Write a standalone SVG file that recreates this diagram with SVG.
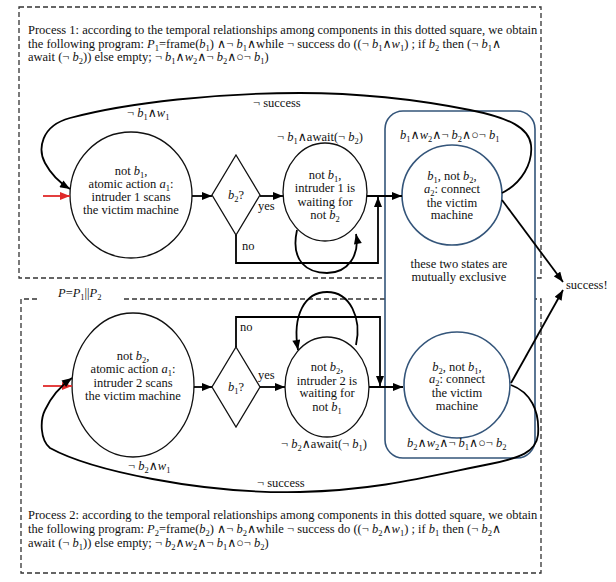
<svg xmlns="http://www.w3.org/2000/svg" width="616" height="582" viewBox="0 0 616 582">
<style>
.t{font-family:"Liberation Serif","Times New Roman","DejaVu Serif",serif;font-size:12.5px;fill:#111}
.c{text-anchor:middle}
.i{font-style:italic}
.s{font-size:8.5px}
.node{fill:#fff;stroke:#111;stroke-width:1.3}
.blue{fill:#fff;stroke:#34557a;stroke-width:1.6}
.box{fill:none;stroke:#333;stroke-width:1.3;stroke-dasharray:5,3}
.ln{fill:none;stroke:#000;stroke-width:1.8}
.red{fill:none;stroke:#e02a2a;stroke-width:1.8}
</style>
<defs>
<marker id="ah" viewBox="0 0 10 8" refX="10" refY="4" markerWidth="11" markerHeight="8" orient="auto" markerUnits="userSpaceOnUse"><path d="M0,0 L10,4 L0,8 z" fill="#000"/></marker>
<marker id="ahr" viewBox="0 0 10 8" refX="10" refY="4" markerWidth="11" markerHeight="8" orient="auto" markerUnits="userSpaceOnUse"><path d="M0,0 L10,4 L0,8 z" fill="#e02a2a"/></marker>
</defs>
<rect width="616" height="582" fill="#fff"/>

<g id="process1-box">
<rect class="box" x="19" y="7" width="522" height="271"/>
<text class="t" x="28" y="34">Process 1: according to the temporal relationships among components in this dotted square, we obtain</text>
<text class="t" x="28" y="48">the following program: <tspan class="i">P</tspan><tspan class="s" dy="3">1</tspan><tspan dy="-3">=frame(</tspan><tspan class="i">b</tspan><tspan class="s" dy="3">1</tspan><tspan dy="-3">) ∧¬ </tspan><tspan class="i">b</tspan><tspan class="s" dy="3">1</tspan><tspan dy="-3">∧while ¬  success do ((¬ </tspan><tspan class="i">b</tspan><tspan class="s" dy="3">1</tspan><tspan dy="-3">∧</tspan><tspan class="i">w</tspan><tspan class="s" dy="3">1</tspan><tspan dy="-3">) ; if </tspan><tspan class="i">b</tspan><tspan class="s" dy="3">2</tspan><tspan dy="-3"> then (¬ </tspan><tspan class="i">b</tspan><tspan class="s" dy="3">1</tspan><tspan dy="-3">∧</tspan></text>
<text class="t" x="28" y="61">await (¬ <tspan class="i">b</tspan><tspan class="s" dy="3">2</tspan><tspan dy="-3">)) else empty; ¬ </tspan><tspan class="i">b</tspan><tspan class="s" dy="3">1</tspan><tspan dy="-3">∧</tspan><tspan class="i">w</tspan><tspan class="s" dy="3">2</tspan><tspan dy="-3">∧¬ </tspan><tspan class="i">b</tspan><tspan class="s" dy="3">2</tspan><tspan dy="-3">∧○¬ </tspan><tspan class="i">b</tspan><tspan class="s" dy="3">1</tspan><tspan dy="-3">)</tspan></text>
</g>

<g id="process2-box">
<path class="box" d="M37,299 H21 V573 H541 V299 H123"/>
<text class="t" x="58" y="297"><tspan class="i">P</tspan>=<tspan class="i">P</tspan><tspan class="s" dy="3">1</tspan><tspan dy="-3">||</tspan><tspan class="i">P</tspan><tspan class="s" dy="3">2</tspan></text>
<text class="t" x="28" y="519">Process 2: according to the temporal relationships among components in this dotted square, we obtain</text>
<text class="t" x="28" y="533">the following program: <tspan class="i">P</tspan><tspan class="s" dy="3">2</tspan><tspan dy="-3">=frame(</tspan><tspan class="i">b</tspan><tspan class="s" dy="3">2</tspan><tspan dy="-3">) ∧¬ </tspan><tspan class="i">b</tspan><tspan class="s" dy="3">2</tspan><tspan dy="-3">∧while ¬  success do ((¬ </tspan><tspan class="i">b</tspan><tspan class="s" dy="3">2</tspan><tspan dy="-3">∧</tspan><tspan class="i">w</tspan><tspan class="s" dy="3">1</tspan><tspan dy="-3">) ; if </tspan><tspan class="i">b</tspan><tspan class="s" dy="3">1</tspan><tspan dy="-3"> then (¬ </tspan><tspan class="i">b</tspan><tspan class="s" dy="3">2</tspan><tspan dy="-3">∧</tspan></text>
<text class="t" x="28" y="547">await (¬ <tspan class="i">b</tspan><tspan class="s" dy="3">1</tspan><tspan dy="-3">)) else empty; ¬ </tspan><tspan class="i">b</tspan><tspan class="s" dy="3">2</tspan><tspan dy="-3">∧</tspan><tspan class="i">w</tspan><tspan class="s" dy="3">2</tspan><tspan dy="-3">∧¬ </tspan><tspan class="i">b</tspan><tspan class="s" dy="3">1</tspan><tspan dy="-3">∧○¬ </tspan><tspan class="i">b</tspan><tspan class="s" dy="3">2</tspan><tspan dy="-3">)</tspan></text>
</g>

<g id="exclusive-group">
<rect class="blue" x="385" y="111" width="150" height="347" rx="18"/>
<text class="t c" x="459" y="268">these two states are</text>
<text class="t c" x="459" y="281">mutually exclusive</text>
</g>

<g id="n1-scan1">
<ellipse class="node" cx="131" cy="195" rx="61" ry="63"/>
<text class="t c" x="131" y="175">not <tspan class="i">b</tspan><tspan class="s" dy="3">1</tspan><tspan dy="-3">,</tspan></text>
<text class="t c" x="131" y="188">atomic action <tspan class="i">a</tspan><tspan class="s" dy="3">1</tspan><tspan dy="-3">:</tspan></text>
<text class="t c" x="131" y="201">intruder 1 scans</text>
<text class="t c" x="131" y="214">the victim machine</text>
</g>

<g id="d1-b2">
<polygon class="node" points="236,155 260,195 236,235 212,195"/>
<text class="t c" x="236" y="199"><tspan class="i">b</tspan><tspan class="s" dy="3">2</tspan><tspan dy="-3">?</tspan></text>
</g>

<g id="n2-wait1">
<ellipse class="node" cx="325" cy="192" rx="42" ry="49"/>
<text class="t c" x="325" y="179">not <tspan class="i">b</tspan><tspan class="s" dy="3">1</tspan><tspan dy="-3">,</tspan></text>
<text class="t c" x="325" y="192">intruder 1 is</text>
<text class="t c" x="325" y="206">waiting for</text>
<text class="t c" x="325" y="219">not <tspan class="i">b</tspan><tspan class="s" dy="3">2</tspan></text>
</g>

<g id="n3-connect1">
<circle class="blue" cx="452" cy="195" r="50"/>
<text class="t c" x="452" y="180"><tspan class="i">b</tspan><tspan class="s" dy="3">1</tspan><tspan dy="-3">, not </tspan><tspan class="i">b</tspan><tspan class="s" dy="3">2</tspan><tspan dy="-3">,</tspan></text>
<text class="t c" x="452" y="193"><tspan class="i">a</tspan><tspan class="s" dy="3">2</tspan><tspan dy="-3">:  connect</tspan></text>
<text class="t c" x="452" y="207">the victim</text>
<text class="t c" x="452" y="219">machine</text>
</g>

<g id="n4-scan2">
<ellipse class="node" cx="133" cy="385" rx="61" ry="72"/>
<text class="t c" x="133" y="360">not <tspan class="i">b</tspan><tspan class="s" dy="3">2</tspan><tspan dy="-3">,</tspan></text>
<text class="t c" x="133" y="373">atomic action <tspan class="i">a</tspan><tspan class="s" dy="3">1</tspan><tspan dy="-3">:</tspan></text>
<text class="t c" x="133" y="387">intruder 2 scans</text>
<text class="t c" x="133" y="400">the victim machine</text>
</g>

<g id="d2-b1">
<polygon class="node" points="236,347 260,387 236,427 212,387"/>
<text class="t c" x="236" y="391"><tspan class="i">b</tspan><tspan class="s" dy="3">1</tspan><tspan dy="-3">?</tspan></text>
</g>

<g id="n5-wait2">
<ellipse class="node" cx="327" cy="387" rx="42" ry="50"/>
<text class="t c" x="327" y="371">not <tspan class="i">b</tspan><tspan class="s" dy="3">2</tspan><tspan dy="-3">,</tspan></text>
<text class="t c" x="327" y="385">intruder 2 is</text>
<text class="t c" x="327" y="397">waiting for</text>
<text class="t c" x="327" y="411">not <tspan class="i">b</tspan><tspan class="s" dy="3">1</tspan></text>
</g>

<g id="n6-connect2">
<circle class="blue" cx="457" cy="385" r="53"/>
<text class="t c" x="457" y="371"><tspan class="i">b</tspan><tspan class="s" dy="3">2</tspan><tspan dy="-3">, not </tspan><tspan class="i">b</tspan><tspan class="s" dy="3">1</tspan><tspan dy="-3">,</tspan></text>
<text class="t c" x="457" y="383"><tspan class="i">a</tspan><tspan class="s" dy="3">2</tspan><tspan dy="-3">:  connect</tspan></text>
<text class="t c" x="457" y="397">the victim</text>
<text class="t c" x="457" y="410">machine</text>
</g>

<g id="success">
<text class="t" x="566" y="289">success!</text>
</g>

<g id="connectors">
<line class="red" x1="43" y1="196" x2="70" y2="196" marker-end="url(#ahr)"/>
<line class="red" x1="43" y1="386" x2="72" y2="386" marker-end="url(#ahr)"/>
<line class="ln" x1="192" y1="196" x2="212" y2="196" marker-end="url(#ah)"/>
<line class="ln" x1="260" y1="196" x2="283" y2="196" marker-end="url(#ah)"/>
<line class="ln" x1="367" y1="196" x2="402" y2="196" marker-end="url(#ah)"/>
<path class="ln" d="M236,235 V263 H378 V197" marker-end="url(#ah)"/>
<path class="ln" d="M297,230 C290,262 308,273 327,273 C348,273 360,255 356,234" marker-end="url(#ah)"/>
<path class="ln" d="M502,193 C522,183 533,163 531,145 C529,128 510,118 470,110 C420,100 360,93 300,93 C220,93 130,102 70,118 C40,126 38,150 45,163 C52,176 60,183 70,189" marker-end="url(#ah)"/>
<line class="ln" x1="502" y1="200" x2="563" y2="282" marker-end="url(#ah)"/>
<line class="ln" x1="194" y1="387" x2="212" y2="387" marker-end="url(#ah)"/>
<line class="ln" x1="260" y1="387" x2="285" y2="387" marker-end="url(#ah)"/>
<line class="ln" x1="369" y1="387" x2="403" y2="387" marker-end="url(#ah)"/>
<path class="ln" d="M236,347 V317 H380 V386" marker-end="url(#ah)"/>
<path class="ln" d="M356,345 C362,318 350,292 327,292 C305,292 292,315 298,350" marker-end="url(#ah)"/>
<path class="ln" d="M511,385 C530,392 540,410 538,435 C536,452 520,458 490,464 C430,476 380,490 300,492 C200,494 90,470 50,448 C40,440 40,420 45,410 C52,395 62,385 72,378" marker-end="url(#ah)"/>
<line class="ln" x1="511" y1="383" x2="563" y2="290" marker-end="url(#ah)"/>
</g>

<g id="labels">
<text class="t" x="253" y="107">¬ success</text>
<text class="t" x="127" y="117">¬ <tspan class="i">b</tspan><tspan class="s" dy="3">1</tspan><tspan dy="-3">∧</tspan><tspan class="i">w</tspan><tspan class="s" dy="3">1</tspan></text>
<text class="t" x="277" y="141">¬ <tspan class="i">b</tspan><tspan class="s" dy="3">1</tspan><tspan dy="-3">∧await(¬ </tspan><tspan class="i">b</tspan><tspan class="s" dy="3">2</tspan><tspan dy="-3">)</tspan></text>
<text class="t" x="400" y="139"><tspan class="i">b</tspan><tspan class="s" dy="3">1</tspan><tspan dy="-3">∧</tspan><tspan class="i">w</tspan><tspan class="s" dy="3">2</tspan><tspan dy="-3">∧¬ </tspan><tspan class="i">b</tspan><tspan class="s" dy="3">2</tspan><tspan dy="-3">∧○¬ </tspan><tspan class="i">b</tspan><tspan class="s" dy="3">1</tspan></text>
<text class="t" x="258" y="210">yes</text>
<text class="t" x="242" y="250">no</text>
<text class="t" x="258" y="379">yes</text>
<text class="t" x="240" y="331">no</text>
<text class="t" x="281" y="448">¬ <tspan class="i">b</tspan><tspan class="s" dy="3">2</tspan><tspan dy="-3">∧await(¬ </tspan><tspan class="i">b</tspan><tspan class="s" dy="3">1</tspan><tspan dy="-3">)</tspan></text>
<text class="t" x="407" y="447"><tspan class="i">b</tspan><tspan class="s" dy="3">2</tspan><tspan dy="-3">∧</tspan><tspan class="i">w</tspan><tspan class="s" dy="3">2</tspan><tspan dy="-3">∧¬ </tspan><tspan class="i">b</tspan><tspan class="s" dy="3">1</tspan><tspan dy="-3">∧○¬ </tspan><tspan class="i">b</tspan><tspan class="s" dy="3">2</tspan></text>
<text class="t" x="128" y="470">¬ <tspan class="i">b</tspan><tspan class="s" dy="3">2</tspan><tspan dy="-3">∧</tspan><tspan class="i">w</tspan><tspan class="s" dy="3">1</tspan></text>
<text class="t" x="257" y="487">¬ success</text>
</g>
</svg>
